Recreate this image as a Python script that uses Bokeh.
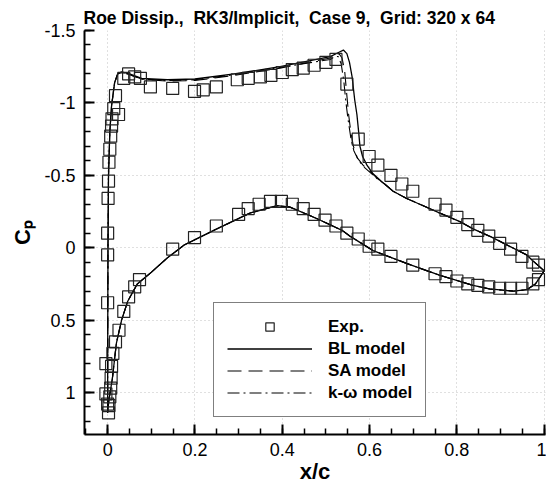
from bokeh.plotting import figure
from bokeh.models import Range1d, FixedTicker, Legend, LegendItem
from bokeh.embed import file_html
from bokeh.resources import INLINE
import numpy as np

# ---------------- data ----------------
exp_upper_x = [-0.004, 0.000, 0.000, 0.000, 0.001, 0.002, 0.003, 0.005, 0.007, 0.009, 0.010,
               0.014, 0.025, 0.018, 0.037, 0.048, 0.062, 0.075, 0.098, 0.149, 0.199, 0.219,
               0.249, 0.297, 0.322, 0.350, 0.374, 0.400, 0.423, 0.448, 0.473, 0.500, 0.523,
               0.548, 0.574, 0.599, 0.619, 0.649, 0.674, 0.699, 0.750, 0.775, 0.800, 0.825,
               0.848, 0.873, 0.898, 0.923, 0.949, 0.974, 0.987]
exp_upper_cp = [0.80, 0.38, 0.05, -0.10, -0.34, -0.46, -0.59, -0.68, -0.77, -0.84, -0.89,
                -0.96, -0.92, -1.05, -1.17, -1.20, -1.18, -1.17, -1.11, -1.10, -1.08, -1.09,
                -1.11, -1.16, -1.17, -1.18, -1.19, -1.21, -1.23, -1.24, -1.26, -1.28, -1.30,
                -1.13, -0.75, -0.63, -0.57, -0.50, -0.44, -0.39, -0.30, -0.26, -0.21, -0.16,
                -0.12, -0.08, -0.03, 0.01, 0.06, 0.10, 0.12]

exp_lower_x = [-0.004, 0.000, 0.002, 0.003, 0.005, 0.007, 0.008, 0.009, 0.012, 0.018, 0.026,
               0.037, 0.048, 0.062, 0.073, 0.149, 0.199, 0.249, 0.300, 0.322, 0.347, 0.373,
               0.398, 0.423, 0.448, 0.473, 0.498, 0.523, 0.548, 0.574, 0.599, 0.619, 0.649,
               0.699, 0.750, 0.775, 0.800, 0.825, 0.848, 0.873, 0.898, 0.923, 0.949, 0.974,
               0.987]
exp_lower_cp = [1.01, 1.08, 1.14, 1.09, 1.03, 0.97, 0.90, 0.82, 0.73, 0.65, 0.57,
                0.44, 0.34, 0.27, 0.22, 0.01, -0.07, -0.15, -0.23, -0.27, -0.30, -0.32,
                -0.32, -0.30, -0.27, -0.23, -0.19, -0.15, -0.10, -0.06, -0.01, 0.01, 0.06,
                0.12, 0.18, 0.20, 0.23, 0.25, 0.26, 0.27, 0.28, 0.28, 0.28, 0.25,
                0.22]

bl_upper_x = [0.0, 0.0002, 0.0008, 0.002, 0.005, 0.009, 0.016, 0.023, 0.032, 0.05, 0.078,
              0.137, 0.2, 0.29, 0.395, 0.51, 0.53, 0.54, 0.548, 0.554, 0.56, 0.566, 0.571,
              0.575, 0.578, 0.584, 0.594, 0.608, 0.63, 0.654, 0.685, 0.715, 0.76, 0.807,
              0.837, 0.882, 0.914, 0.96, 0.974, 1.0]
bl_upper_cp = [1.14, 0.60, 0.0, -0.50, -0.80, -0.98, -1.14, -1.20, -1.215, -1.20, -1.17,
               -1.16, -1.165, -1.20, -1.25, -1.32, -1.35, -1.365, -1.34, -1.28, -1.18, -1.02, -0.92,
               -0.80, -0.70, -0.63, -0.57, -0.51, -0.45, -0.39, -0.34, -0.30, -0.24, -0.18,
               -0.13, -0.07, -0.02, 0.05, 0.09, 0.16]

sa_upper_x = [0.0, 0.0002, 0.0008, 0.002, 0.005, 0.009, 0.016, 0.023, 0.032, 0.05, 0.078,
              0.137, 0.2, 0.29, 0.395, 0.51, 0.522, 0.53, 0.537, 0.543, 0.548, 0.552, 0.557,
              0.563, 0.572, 0.585, 0.60, 0.617, 0.63, 0.654, 0.685, 0.715, 0.76, 0.807,
              0.837, 0.882, 0.914, 0.96, 0.974, 1.0]
sa_upper_cp = [1.14, 0.60, 0.0, -0.50, -0.80, -0.98, -1.14, -1.20, -1.21, -1.195, -1.165,
               -1.15, -1.155, -1.19, -1.24, -1.31, -1.335, -1.34, -1.31, -1.22, -1.05, -0.92, -0.80,
               -0.70, -0.62, -0.57, -0.53, -0.48, -0.45, -0.39, -0.34, -0.30, -0.24, -0.18,
               -0.13, -0.07, -0.02, 0.05, 0.09, 0.16]

kw_upper_x = [0.0, 0.0002, 0.0008, 0.002, 0.005, 0.009, 0.016, 0.023, 0.032, 0.05, 0.078,
              0.137, 0.2, 0.29, 0.395, 0.51, 0.52, 0.528, 0.535, 0.541, 0.546, 0.551, 0.557,
              0.564, 0.575, 0.59, 0.605, 0.62, 0.635, 0.654, 0.685, 0.715, 0.76, 0.807,
              0.837, 0.882, 0.914, 0.96, 0.974, 1.0]
kw_upper_cp = [1.14, 0.60, 0.0, -0.50, -0.80, -0.98, -1.14, -1.20, -1.21, -1.195, -1.165,
               -1.155, -1.16, -1.195, -1.245, -1.30, -1.32, -1.32, -1.27, -1.15, -1.00, -0.88, -0.76,
               -0.67, -0.60, -0.55, -0.51, -0.47, -0.44, -0.39, -0.34, -0.30, -0.24, -0.18,
               -0.13, -0.07, -0.02, 0.05, 0.09, 0.16]

lower_x = [0.0, 0.003, 0.011, 0.02, 0.032, 0.046, 0.068, 0.1, 0.137, 0.176, 0.25, 0.327,
           0.388, 0.418, 0.48, 0.537, 0.555, 0.608, 0.686, 0.76, 0.837, 0.875, 0.93, 0.96,
           0.98, 1.0]
lower_cp = [1.14, 1.05, 0.90, 0.66, 0.50, 0.37, 0.25, 0.17, 0.07, -0.02, -0.13, -0.24,
            -0.29, -0.28, -0.20, -0.12, -0.08, 0.02, 0.11, 0.19, 0.26, 0.285, 0.30, 0.29,
            0.25, 0.16]

x_ticks = [0, 0.2, 0.4, 0.6, 0.8, 1.0]
x_tick_labels = ["0", "0.2", "0.4", "0.6", "0.8", "1"]
y_ticks = [-1.5, -1.0, -0.5, 0.0, 0.5, 1.0]
y_tick_labels = ["-1.5", "-1", "-0.5", "0", "0.5", "1"]

title_text = "Roe Dissip.,\u00a0 RK3/Implicit,\u00a0 Case 9,\u00a0 Grid: 320 x 64"
legend_labels = ["Exp.", "BL model", "SA model", "k-\u03c9 model"]

FONT = "Liberation Sans"

p = figure(frame_width=461, frame_height=404, output_backend="svg", toolbar_location=None,
           x_range=Range1d(-0.053, 1.003), y_range=Range1d(1.29, -1.5),
           min_border_left=84, min_border_right=1, min_border_top=30, min_border_bottom=53,
           title=title_text)
p.outline_line_color = None
p.background_fill_color = "white"

p.title.text_font = FONT
p.title.text_font_size = "17.5px"
p.title.text_font_style = "bold"
p.title.text_color = "black"
p.title.align = "left"
p.title.standoff = 5
p.title.offset = -1

# grid
for g in (p.xgrid, p.ygrid):
    g.grid_line_color = "#c0c0c0"
    g.grid_line_dash = "1 3"
    g.grid_line_width = 1
p.xgrid.ticker = FixedTicker(ticks=x_ticks)
p.ygrid.ticker = FixedTicker(ticks=y_ticks)

# axes
p.xaxis.ticker = FixedTicker(ticks=x_ticks, minor_ticks=list(np.round(np.arange(-0.05, 1.001, 0.05), 3)))
p.yaxis.ticker = FixedTicker(ticks=y_ticks, minor_ticks=list(np.round(np.arange(-1.5, 1.29, 0.1), 3)))
p.xaxis.major_label_overrides = dict(zip(x_ticks, x_tick_labels))
p.yaxis.major_label_overrides = dict(zip(y_ticks, y_tick_labels))
for ax in (p.xaxis[0], p.yaxis[0]):
    ax.axis_line_width = 2
    ax.axis_line_color = "black"
    ax.major_tick_in = 10
    ax.major_tick_out = 0
    ax.minor_tick_in = 6
    ax.minor_tick_out = 0
    ax.major_tick_line_width = 2
    ax.minor_tick_line_width = 1.5
    ax.major_tick_line_color = "black"
    ax.minor_tick_line_color = "black"
    ax.major_label_text_font = FONT
    ax.major_label_text_font_size = "18px"
    ax.major_label_text_color = "black"
    ax.axis_label_text_font = FONT
    ax.axis_label_text_font_size = "22px"
    ax.axis_label_text_font_style = "bold"
    ax.axis_label_text_color = "black"
p.xaxis.axis_label = "x/c"
p.yaxis.axis_label = "C\u209a"
p.xaxis.major_label_standoff = 8
p.xaxis.axis_label_standoff = 0
p.yaxis.major_label_standoff = 9
p.yaxis.axis_label_standoff = 6
p.yaxis.major_label_orientation = "horizontal"

# model curves: upper surface (TE->LE) then lower surface (LE->TE)
def wrap(ux, ucp):
    return list(ux[::-1]) + list(lower_x[1:]), list(ucp[::-1]) + list(lower_cp[1:])

bx, bc = wrap(bl_upper_x, bl_upper_cp)
sx, sc = wrap(sa_upper_x, sa_upper_cp)
kx, kc = wrap(kw_upper_x, kw_upper_cp)

r_bl = p.line(bx, bc, line_color="black", line_width=1.3)
r_sa = p.line(sx, sc, line_color="black", line_width=1.1, line_dash="14 7")
r_kw = p.line(kx, kc, line_color="black", line_width=1.1, line_dash="12 4 2 4")

r_exp = p.scatter(exp_upper_x + exp_lower_x, exp_upper_cp + exp_lower_cp, marker="square",
                  size=12, fill_color=None, line_color="#222222", line_width=1.2)

legend = Legend(items=[LegendItem(label=legend_labels[0], renderers=[r_exp]),
                       LegendItem(label=legend_labels[1], renderers=[r_bl]),
                       LegendItem(label=legend_labels[2], renderers=[r_sa]),
                       LegendItem(label=legend_labels[3], renderers=[r_kw])],
                location=(129, 17))
legend.glyph_width = 85
legend.glyph_height = 21
legend.label_height = 21
legend.spacing = 1
legend.padding = 13
legend.margin = 0
legend.label_standoff = 16
legend.label_text_font = FONT
legend.label_text_font_size = "17px"
legend.label_text_font_style = "bold"
legend.label_text_color = "black"
legend.border_line_color = "black"
legend.border_line_width = 1
legend.background_fill_color = "white"
legend.background_fill_alpha = 1
p.add_layout(legend, "center")

open("out.html", "w").write(file_html(p, INLINE))
